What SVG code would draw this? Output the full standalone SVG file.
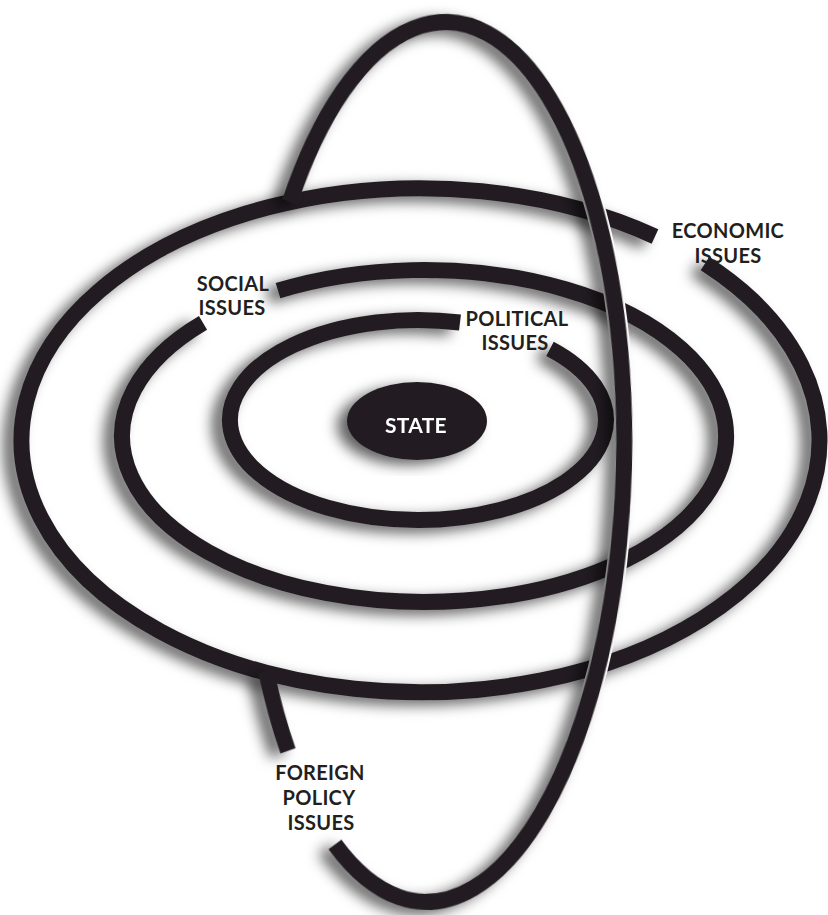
<svg xmlns="http://www.w3.org/2000/svg" width="828" height="915" viewBox="0 0 828 915">
<defs>
<filter id="sh" x="-20%" y="-20%" width="140%" height="140%">
<feGaussianBlur in="SourceAlpha" stdDeviation="7"/>
<feOffset dx="-10" dy="5" result="b"/>
<feFlood flood-color="#000" flood-opacity="0.62"/>
<feComposite in2="b" operator="in"/>
<feMerge><feMergeNode/><feMergeNode in="SourceGraphic"/></feMerge>
</filter>
</defs>
<style>
.ring{fill:none;stroke:#231f20;stroke-width:16;stroke-linecap:butt}
.halo{fill:none;stroke:#fff;stroke-width:20}
.lbl{font-family:Lato,"Open Sans","Liberation Sans",sans-serif;font-weight:700;font-size:20px;fill:#231f20;text-anchor:middle;letter-spacing:0.3px}
</style>
<rect width="828" height="915" fill="#fff"/>
<g id="economic" filter="url(#sh)">
<path class="ring" d="M 705 263.6 A 399 252 0 1 1 655 236.4"/>
</g>
<g id="social" filter="url(#sh)">
<path class="ring" d="M 278 290.7 A 302 166 0 1 1 203 322.9"/>
</g>
<g id="political" filter="url(#sh)">
<path class="ring" d="M 550 348.8 A 188 100 0 1 1 460 322.5"/>
</g>
<g id="state" filter="url(#sh)">
<ellipse cx="417" cy="421" rx="70" ry="39" fill="#231f20"/>
<text x="416" y="433" class="lbl" style="fill:#fff;font-size:21px">STATE</text>
</g>
<g id="foreign-policy" transform="rotate(1.5 436 462)">
<path class="halo" d="M 500.3 48.5 A 188 440 0 0 1 500.3 875.5"/>
<g filter="url(#sh)">
<path class="ring" d="M 283.25 205.5 A 188 440 0 1 1 345 847"/>
<path class="ring" d="M 295.6 754.6 A 188 440 0 0 1 271.9 676.7"/>
</g>
</g>
<g id="labels">
<text class="lbl" x="728" y="238">ECONOMIC</text>
<text class="lbl" x="728" y="263">ISSUES</text>
<text class="lbl" x="233" y="291">SOCIAL</text>
<text class="lbl" x="232" y="315">ISSUES</text>
<text class="lbl" x="517" y="326">POLITICAL</text>
<text class="lbl" x="515" y="350">ISSUES</text>
<text class="lbl" x="320" y="780">FOREIGN</text>
<text class="lbl" x="319" y="805">POLICY</text>
<text class="lbl" x="321" y="830">ISSUES</text>
</g>
</svg>
